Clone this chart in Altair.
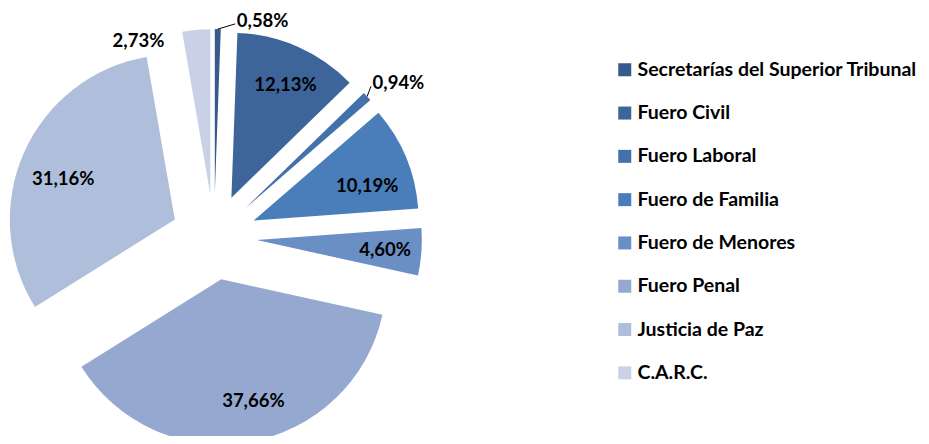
import json
import altair as alt
import pandas as pd

# ---- data -------------------------------------------------------------
categories = [
    "Secretarías del Superior Tribunal",
    "Fuero Civil",
    "Fuero Laboral",
    "Fuero de Familia",
    "Fuero de Menores",
    "Fuero Penal",
    "Justicia de Paz",
    "C.A.R.C.",
]
shares = [0.58, 12.13, 0.94, 10.19, 4.60, 37.66, 31.16, 2.73]
labels = [f"{v:.2f}".replace(".", ",") + "%" for v in shares]

# ---- style ------------------------------------------------------------
colors = ["#375A8C", "#3D6599", "#4371AB", "#4A7EBB",
          "#6A8FC5", "#95A9D0", "#AFBFDB", "#C8D1E5"]
R_PX = 165            # pie radius in pixels (1 unit)
EXPLODE = 0.26        # explosion distance in radius units
# label placement: (angle shift in degrees, distance in radius units)
LABEL_PLACE = {
    "Secretarías del Superior Tribunal": (6.2, 1.06),
    "Fuero Civil": (1.6, 0.76),
    "Fuero Laboral": (-2.0, 1.08),
    "Fuero de Familia": (5.5, 0.72),
    "Fuero de Menores": (0.4, 0.78),
    "Fuero Penal": (-5.0, 0.76),
    "Justicia de Paz": (-4.0, 0.72),
    "C.A.R.C.": (-11.8, 0.97),
}

W, H = 913, 428
CX, CY = 206, 229     # pie centre inside the plot area
XMIN = -CX / R_PX
XMAX = XMIN + W / R_PX
YMAX = CY / R_PX
YMIN = YMAX - H / R_PX


def case_expr(idx):
    expr = "0"
    for cat, vals in reversed(list(LABEL_PLACE.items())):
        expr = f"(datum.cat == {json.dumps(cat)} ? {vals[idx]} : {expr})"
    return expr


df = pd.DataFrame({"cat": categories, "value": shares, "label": labels,
                   "order": list(range(len(categories)))})

base = (
    alt.Chart(df)
    .transform_joinaggregate(total="sum(value)")
    .transform_window(cum="sum(value)", sort=[alt.SortField("order")], frame=[None, 0])
    .transform_calculate(
        start="2*PI*(datum.cum - datum.value)/datum.total",
        end="2*PI*datum.cum/datum.total",
    )
    .transform_calculate(mid="(datum.start + datum.end)/2")
    .transform_calculate(
        ax=f"{EXPLODE}*sin(datum.mid)",
        ay=f"{EXPLODE}*cos(datum.mid)",
        lt=f"datum.mid + {case_expr(0)}*PI/180",
        lr=case_expr(1),
    )
    .transform_calculate(
        lx="datum.ax + datum.lr*sin(datum.lt)",
        ly="datum.ay + datum.lr*cos(datum.lt)",
        ex="datum.ax + 1.0*sin(datum.mid)",
        ey="datum.ay + 1.0*cos(datum.mid)",
    )
)

xs = alt.Scale(domain=[XMIN, XMAX], nice=False, zero=False)
ys = alt.Scale(domain=[YMIN, YMAX], nice=False, zero=False)

arcs = base.mark_arc(radius=R_PX, strokeWidth=0).encode(
    x=alt.X("ax:Q", scale=xs, axis=None),
    y=alt.Y("ay:Q", scale=ys, axis=None),
    theta=alt.Theta("start:Q", scale=None),
    theta2="end:Q",
    color=alt.Color(
        "cat:N",
        scale=alt.Scale(domain=categories, range=colors),
        legend=alt.Legend(
            title=None, orient="none", legendX=607, legendY=52,
            symbolType="square", symbolSize=169, symbolStrokeWidth=0,
            symbolOpacity=1,
            labelFont="Lato", labelFontSize=19.5, labelFontWeight="bold",
            labelColor="#000000", labelOffset=3, labelLimit=400,
            rowPadding=22.3, padding=0,
        ),
    ),
)

txt_props = dict(font="Lato", fontSize=18.5, fontWeight="bold", color="#000000",
                 baseline="middle")

inside = base.transform_filter("datum.lr < 0.9").mark_text(align="center", **txt_props).encode(
    x=alt.X("lx:Q", scale=xs), y=alt.Y("ly:Q", scale=ys), text="label:N")
out_right = base.transform_filter("datum.lr >= 0.9 && sin(datum.lt) >= 0").mark_text(
    align="left", **txt_props).encode(
    x=alt.X("lx:Q", scale=xs), y=alt.Y("ly:Q", scale=ys), text="label:N")
out_left = base.transform_filter("datum.lr >= 0.9 && sin(datum.lt) < 0").mark_text(
    align="right", **txt_props).encode(
    x=alt.X("lx:Q", scale=xs), y=alt.Y("ly:Q", scale=ys), text="label:N")

leader = base.transform_filter("datum.value < 1 && datum.lr > 1.0").transform_calculate(
    lx2="datum.lx - 0.01", ly2="datum.ly - 0.02").mark_rule(
    color="#000000", strokeWidth=1).encode(
    x=alt.X("ex:Q", scale=xs), y=alt.Y("ey:Q", scale=ys), x2="lx2:Q", y2="ly2:Q")

chart = (
    alt.layer(arcs, leader, inside, out_right, out_left)
    .properties(width=W, height=H, autosize=alt.AutoSizeParams(type="none"), padding=0)
    .configure_view(stroke=None)
)

chart.save("out.html", embed_options={"renderer": "svg", "actions": False})
